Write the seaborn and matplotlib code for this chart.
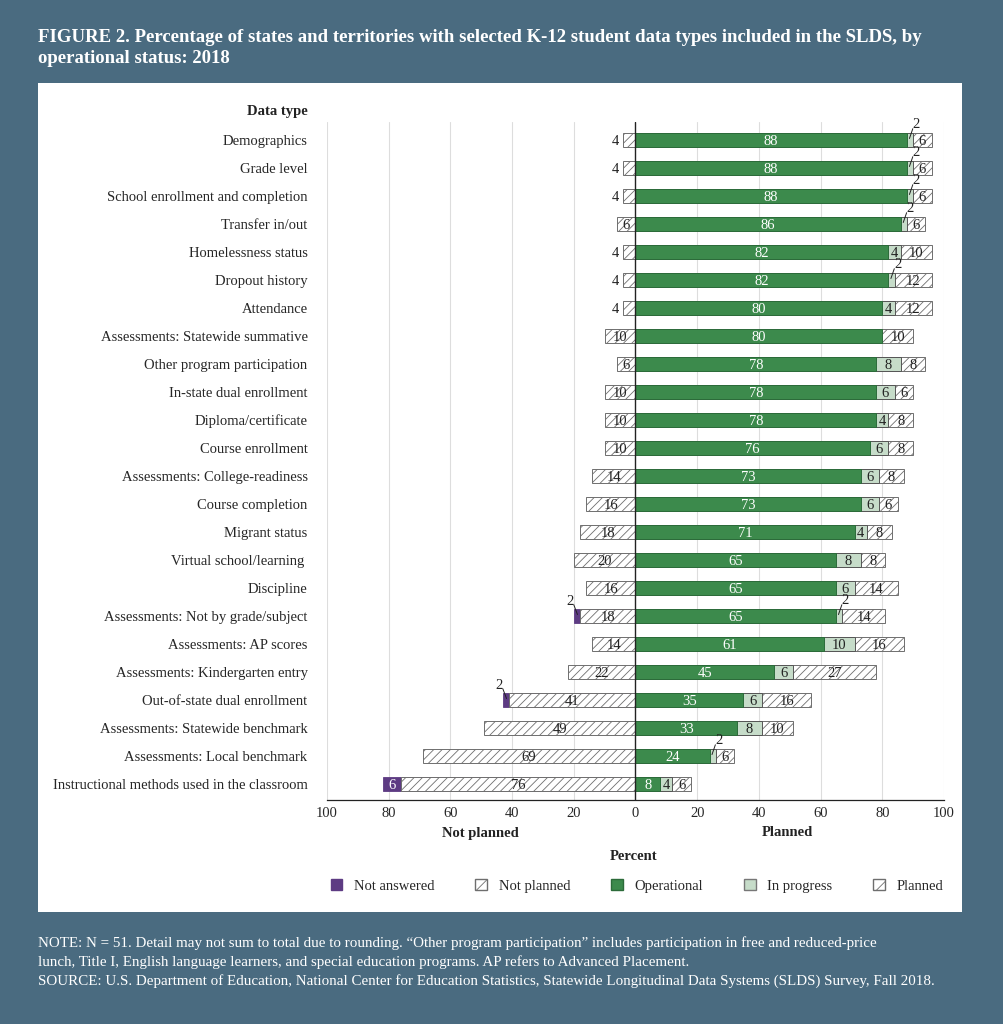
import matplotlib
matplotlib.use('Agg')
import matplotlib.pyplot as plt
import seaborn as sns
import pandas as pd
from matplotlib.patches import Rectangle, Patch

# data
data_types = [
    'Demographics', 'Grade level', 'School enrollment and completion', 'Transfer in/out',
    'Homelessness status', 'Dropout history', 'Attendance', 'Assessments: Statewide summative',
    'Other program participation', 'In-state dual enrollment', 'Diploma/certificate',
    'Course enrollment', 'Assessments: College-readiness', 'Course completion', 'Migrant status',
    'Virtual school/learning ', 'Discipline', 'Assessments: Not by grade/subject',
    'Assessments: AP scores', 'Assessments: Kindergarten entry', 'Out-of-state dual enrollment',
    'Assessments: Statewide benchmark', 'Assessments: Local benchmark',
    'Instructional methods used in the classroom']
not_answered = [0, 0, 0, 0, 0, 0, 0, 0, 0, 0, 0, 0, 0, 0, 0, 0, 0, 2, 0, 0, 2, 0, 0, 6]
not_planned = [4, 4, 4, 6, 4, 4, 4, 10, 6, 10, 10, 10, 14, 16, 18, 20, 16, 18, 14, 22, 41, 49, 69, 76]
operational = [88, 88, 88, 86, 82, 82, 80, 80, 78, 78, 78, 76, 73, 73, 71, 65, 65, 65, 61, 45, 35, 33, 24, 8]
in_progress = [2, 2, 2, 2, 4, 2, 4, 0, 8, 6, 4, 6, 6, 6, 4, 8, 6, 2, 10, 6, 6, 8, 2, 4]
planned = [6, 6, 6, 6, 10, 12, 12, 10, 8, 6, 8, 8, 8, 6, 8, 8, 14, 14, 16, 27, 16, 10, 6, 6]

bg = '#4a6b80'
c_na = '#5d3b83'
c_op = '#3c8a4c'
c_ip = '#c6dcc9'
edge = '#6e6e6e'

sns.set_theme(style='white')
plt.rcParams['font.family'] = ['Liberation Serif', 'DejaVu Serif']
plt.rcParams['hatch.color'] = '#8a8a8a'
plt.rcParams['hatch.linewidth'] = 0.6

df = pd.DataFrame({'data_type': data_types, 'na': not_answered, 'np': not_planned,
                   'op': operational, 'ip': in_progress, 'pl': planned})
df['left_total'] = -(df['na'] + df['np'])
df['left_np'] = -df['np']
df['right_total'] = df['op'] + df['ip'] + df['pl']
df['right_ip'] = df['op'] + df['ip']

fig = plt.figure(figsize=(10.04, 10.24), dpi=100)
fig.patch.set_facecolor(bg)
fig.patches.append(Rectangle((0.0378, 0.109), 0.9204, 0.81, transform=fig.transFigure,
                             facecolor='white', edgecolor='none', zorder=-5))
ax = fig.add_axes([0.3257, 0.2188, 0.6145, 0.6621])
ax.set_facecolor('none')

bw = 0.5
hatch = '////'
sns.barplot(data=df[df['na'] > 0], x='left_total', y='data_type', order=data_types, orient='h',
            color=c_na, saturation=1, width=bw, edgecolor=c_na, linewidth=0.6, ax=ax, zorder=2)
sns.barplot(data=df, x='left_np', y='data_type', order=data_types, orient='h',
            color='white', saturation=1, width=bw, edgecolor=edge, linewidth=0.7,
            hatch=hatch, ax=ax, zorder=3)
sns.barplot(data=df, x='right_total', y='data_type', order=data_types, orient='h',
            color='white', saturation=1, width=bw, edgecolor=edge, linewidth=0.7,
            hatch=hatch, ax=ax, zorder=2)
sns.barplot(data=df[df['ip'] > 0], x='right_ip', y='data_type', order=data_types, orient='h',
            color=c_ip, saturation=1, width=bw, edgecolor='#555555', linewidth=0.7, ax=ax, zorder=3)
sns.barplot(data=df, x='op', y='data_type', order=data_types, orient='h',
            color=c_op, saturation=1, width=bw, edgecolor='#2c6b3a', linewidth=0.7, ax=ax, zorder=4)

ax.set_xlim(-100, 100)
ax.set_ylim(len(data_types) - 1 + 0.57, -0.64)
ticks = list(range(-100, 101, 20))
ax.set_xticks(ticks)
ax.set_xticklabels([str(abs(t)) for t in ticks], fontsize=10.5)
ax.set_yticks(range(len(data_types)))
ax.set_yticklabels(data_types, fontsize=10.5)
ax.tick_params(axis='y', length=0, pad=14)
ax.tick_params(axis='x', length=0, pad=5)
ax.set_xlabel('')
ax.set_ylabel('')
for s in ['top', 'right', 'left']:
    ax.spines[s].set_visible(False)
ax.spines['bottom'].set_color('#222222')
ax.spines['bottom'].set_linewidth(0.9)
for t in ticks:
    if t != 0:
        ax.axvline(t, color='#dddddd', linewidth=0.8, zorder=0)
ax.axvline(0, color='#222222', linewidth=1.0, zorder=6)

fs = 10.5
va = 'center_baseline'
for i, r in df.iterrows():
    # left side
    if r['np'] <= 4:
        ax.text(-r['np'] - 1.5, i, str(r['np']), ha='right', va=va, fontsize=fs, color='#222222', zorder=7)
    else:
        ax.text(-r['np'] / 2, i, str(r['np']), ha='center', va=va, fontsize=fs, color='#222222', zorder=7)
    if r['na'] >= 4:
        ax.text(-r['np'] - r['na'] / 2, i, str(r['na']), ha='center', va=va, fontsize=fs, color='white', zorder=7)
    elif r['na'] > 0:
        x0 = -r['np'] - r['na'] / 2
        ax.plot([x0 + 0.2, x0 - 1.0], [i - 0.05, i - 0.4], color='#222222', linewidth=0.7, zorder=7)
        ax.text(x0 - 1.0, i - 0.3, str(r['na']), ha='right', va='bottom', fontsize=fs, color='#222222', zorder=7)
    # right side
    ax.text(r['op'] / 2, i, str(r['op']), ha='center', va=va, fontsize=fs, color='white', zorder=7)
    if r['ip'] >= 4:
        ax.text(r['op'] + r['ip'] / 2, i, str(r['ip']), ha='center', va=va, fontsize=fs, color='#222222', zorder=7)
    elif r['ip'] > 0:
        x0 = r['op'] + r['ip'] / 2
        ax.plot([x0 - 0.2, x0 + 0.9], [i - 0.05, i - 0.4], color='#222222', linewidth=0.7, zorder=7)
        ax.text(x0 + 0.8, i - 0.32, str(r['ip']), ha='left', va='bottom', fontsize=fs, color='#222222', zorder=7)
    ax.text(r['op'] + r['ip'] + r['pl'] / 2, i, str(r['pl']), ha='center', va=va, fontsize=fs,
            color='#222222', zorder=7)

# texts outside the axes
fig.text(308 / 1004, 1 - 112 / 1024, 'Data type', ha='right', va='center', fontsize=10.5, fontweight='bold', color='#222222')
fig.text(480 / 1004, 1 - 833 / 1024, 'Not planned', ha='center', va='center', fontsize=10.5, fontweight='bold', color='#222222')
fig.text(787 / 1004, 1 - 833 / 1024, 'Planned', ha='center', va='center', fontsize=10.5, fontweight='bold', color='#222222')
fig.text(634 / 1004, 1 - 856 / 1024, 'Percent', ha='center', va='center', fontsize=10.5, fontweight='bold', color='#222222')

handles = [Patch(facecolor=c_na, edgecolor=c_na),
           Patch(facecolor='white', edgecolor=edge, hatch='/'),
           Patch(facecolor=c_op, edgecolor='#2c6b3a'),
           Patch(facecolor=c_ip, edgecolor='#777777'),
           Patch(facecolor='white', edgecolor=edge, hatch='/')]
labels = ['Not answered', 'Not planned', 'Operational', 'In progress', 'Planned']
fig.legend(handles, labels, loc='center', bbox_to_anchor=(637 / 1004, 1 - 886 / 1024), ncol=5, frameon=False,
           handlelength=0.8, handleheight=0.8, columnspacing=2.8, handletextpad=0.8, fontsize=10.5)

fig.text(38 / 1004, 1 - 48 / 1024,
         'FIGURE 2. Percentage of states and territories with selected K-12 student data types included in the SLDS, by\noperational status: 2018',
         ha='left', va='center', fontsize=13.5, fontweight='bold', color='white', linespacing=1.3)
fig.text(38 / 1004, 1 - 962 / 1024,
         'NOTE: N = 51. Detail may not sum to total due to rounding. \u201cOther program participation\u201d includes participation in free and reduced-price\n'
         'lunch, Title I, English language learners, and special education programs. AP refers to Advanced Placement.\n'
         'SOURCE: U.S. Department of Education, National Center for Education Statistics, Statewide Longitudinal Data Systems (SLDS) Survey, Fall 2018.',
         ha='left', va='center', fontsize=10.8, color='white', linespacing=1.5)

fig.savefig('out.png', dpi=100, facecolor=fig.get_facecolor())
